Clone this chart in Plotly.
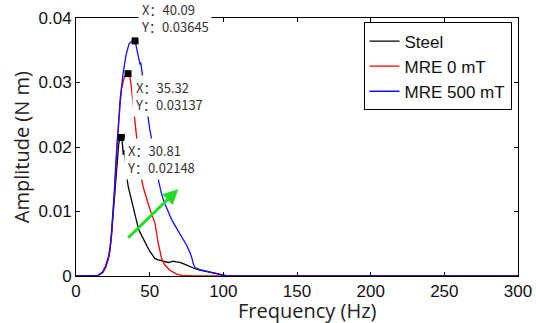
import plotly.graph_objects as go

# ---------------- data ----------------
steel_f = [0, 12, 15, 18, 20, 22, 23, 24, 25, 26, 27, 28, 29, 29.8, 30.81, 31.5, 32.1, 32.8, 33.4, 34.4,
           35.5, 36.5, 37.8, 39, 40, 41.1, 42.5, 44.5, 45.5, 46.8, 48.5, 50.2, 52, 53.6, 56, 58.1, 60,
           62.6, 64.5, 66, 68, 70.5, 74, 77.3, 80, 84.1, 88, 90.8, 94, 97.6, 100, 103, 300]
steel_a = [0, 0, 0.0001, 0.0005, 0.0013, 0.0027, 0.004, 0.006, 0.009, 0.0125, 0.016, 0.019, 0.0205, 0.0213,
           0.02148, 0.0205, 0.0188, 0.0195, 0.0175, 0.0155, 0.0138, 0.0128, 0.0115, 0.0102, 0.0092, 0.0082,
           0.0072, 0.0063, 0.0058, 0.0053, 0.0045, 0.0038, 0.0031, 0.0027, 0.0025, 0.0024, 0.0022, 0.0021,
           0.0022, 0.0023, 0.0022, 0.0021, 0.0018, 0.0014, 0.0012, 0.0009, 0.0007, 0.0006, 0.0004, 0.0002,
           0.0001, 0, 0]

mre0_f = [0, 12, 15, 18, 20, 22, 23, 24, 25, 26, 27, 28, 29, 30, 31, 32, 33, 34, 35.32, 36.5, 37.5, 38.5,
          39.5, 40.5, 41.1, 42, 43.4, 45.6, 47.5, 49, 51, 53.6, 55.8, 58.1, 60.3, 63.7, 68.3, 72, 80, 300]
mre0_a = [0, 0, 0.0001, 0.0005, 0.0013, 0.0027, 0.004, 0.006, 0.009, 0.012, 0.0163, 0.0205, 0.024, 0.0268,
          0.0291, 0.0303, 0.031, 0.0312, 0.03137, 0.031, 0.0295, 0.0272, 0.0252, 0.023, 0.0216, 0.019,
          0.0162, 0.0138, 0.0122, 0.0112, 0.0098, 0.0082, 0.0051, 0.0027, 0.0017, 0.0009, 0.0003, 0.0001,
          0, 0]

mre500_f = [0, 12, 15, 18, 20, 22, 23, 24, 25, 26, 27, 28, 29, 30, 32, 34, 36, 38, 40.09, 42, 43.4, 44,
            46, 48, 50, 52, 54, 56, 58, 60, 62, 65, 68, 70.5, 73, 75, 77, 78.4, 79.5, 80.7, 84, 88, 91,
            95, 98, 100, 105, 300]
mre500_a = [0, 0, 0.0001, 0.0006, 0.0015, 0.003, 0.0042, 0.0065, 0.0095, 0.013, 0.0175, 0.021, 0.0245,
            0.0275, 0.0315, 0.0343, 0.036, 0.0364, 0.03645, 0.0345, 0.0329, 0.033, 0.0295, 0.0255, 0.0228,
            0.0205, 0.0175, 0.0148, 0.0128, 0.0113, 0.0103, 0.0087, 0.0075, 0.0066, 0.0056, 0.0048, 0.0038,
            0.003, 0.002, 0.0013, 0.001, 0.0008, 0.0007, 0.0004, 0.0002, 0.0001, 0, 0]

series_names = ["Steel", "MRE 0 mT", "MRE 500 mT"]
peak_f = [30.81, 35.32, 40.09]
peak_a = [0.02148, 0.03137, 0.03645]

arrow_start = (34.4, 0.0057)
arrow_end = (69.4, 0.01346)

x_ticks = [0, 50, 100, 150, 200, 250, 300]
y_ticks = [0, 0.01, 0.02, 0.03, 0.04]
y_ticklabels = ["0", "0.01", "0.02", "0.03", "0.04"]

# ---------------- figure ----------------
colors = ["#000000", "#ff0000", "#1010ff"]
fig = go.Figure()
for name, fx, fy, c in zip(series_names, [steel_f, mre0_f, mre500_f],
                           [steel_a, mre0_a, mre500_a], colors):
    fig.add_trace(go.Scatter(x=fx, y=fy, mode="lines", name=name,
                             line=dict(color=c, width=1.3)))

fig.add_trace(go.Scatter(x=peak_f, y=peak_a, mode="markers", showlegend=False,
                         marker=dict(symbol="square", size=7, color="black")))

lab_font = dict(family="Noto Sans CJK SC, Noto Sans", size=13, color="#333333")
offsets = [(3, -1, "top"), (4, -1, "top"), (3, 2, "bottom")]
for fx, fy, (xs, ys, ya) in zip(peak_f, peak_a, offsets):
    fig.add_annotation(x=fx, y=fy, xref="x", yref="y", showarrow=False,
                       text=f"X：{fx:.2f}<br>Y：{fy:.5f}", align="left",
                       xanchor="left", yanchor=ya, xshift=xs, yshift=ys,
                       bgcolor="white", borderpad=2, font=lab_font)

fig.add_annotation(x=arrow_end[0], y=arrow_end[1], ax=arrow_start[0], ay=arrow_start[1],
                   xref="x", yref="y", axref="x", ayref="y", showarrow=True,
                   arrowhead=2, arrowsize=1, arrowwidth=3, arrowcolor="#22dd22", text="")

# axis titles as annotations for precise placement
fig.add_annotation(text="Frequency (Hz)", xref="paper", yref="paper", x=0.5245, y=-0.132,
                   xanchor="center", yanchor="middle", showarrow=False,
                   font=dict(family="Open Sans", size=20, color="#222222"))
fig.add_annotation(text="Amplitude (N m)", xref="paper", yref="paper", x=-0.124, y=0.5,
                   xanchor="center", yanchor="middle", showarrow=False, textangle=-90,
                   font=dict(family="Open Sans", size=20, color="#222222"))

axis_common = dict(showline=True, linecolor="black", linewidth=1, mirror="ticks",
                   ticks="inside", ticklen=4, tickcolor="black", showgrid=False, zeroline=False,
                   tickfont=dict(family="Arial, Liberation Sans", size=17, color="#111111"))
fig.update_xaxes(range=[0, 300], tickvals=x_ticks, **axis_common)
fig.update_yaxes(range=[0, 0.04], tickvals=y_ticks, ticktext=y_ticklabels, **axis_common)

fig.update_layout(
    width=536, height=323,
    margin=dict(l=76, r=17.5, t=17.5, b=47, autoexpand=False),
    paper_bgcolor="white", plot_bgcolor="white",
    showlegend=True,
    legend=dict(x=0.9853, y=0.9826, xanchor="right", yanchor="top",
                bgcolor="white", bordercolor="black", borderwidth=1,
                font=dict(family="Arial, Liberation Sans", size=17, color="#111111"),
                itemwidth=30, tracegroupgap=0),
)

fig.write_html("out.html")
